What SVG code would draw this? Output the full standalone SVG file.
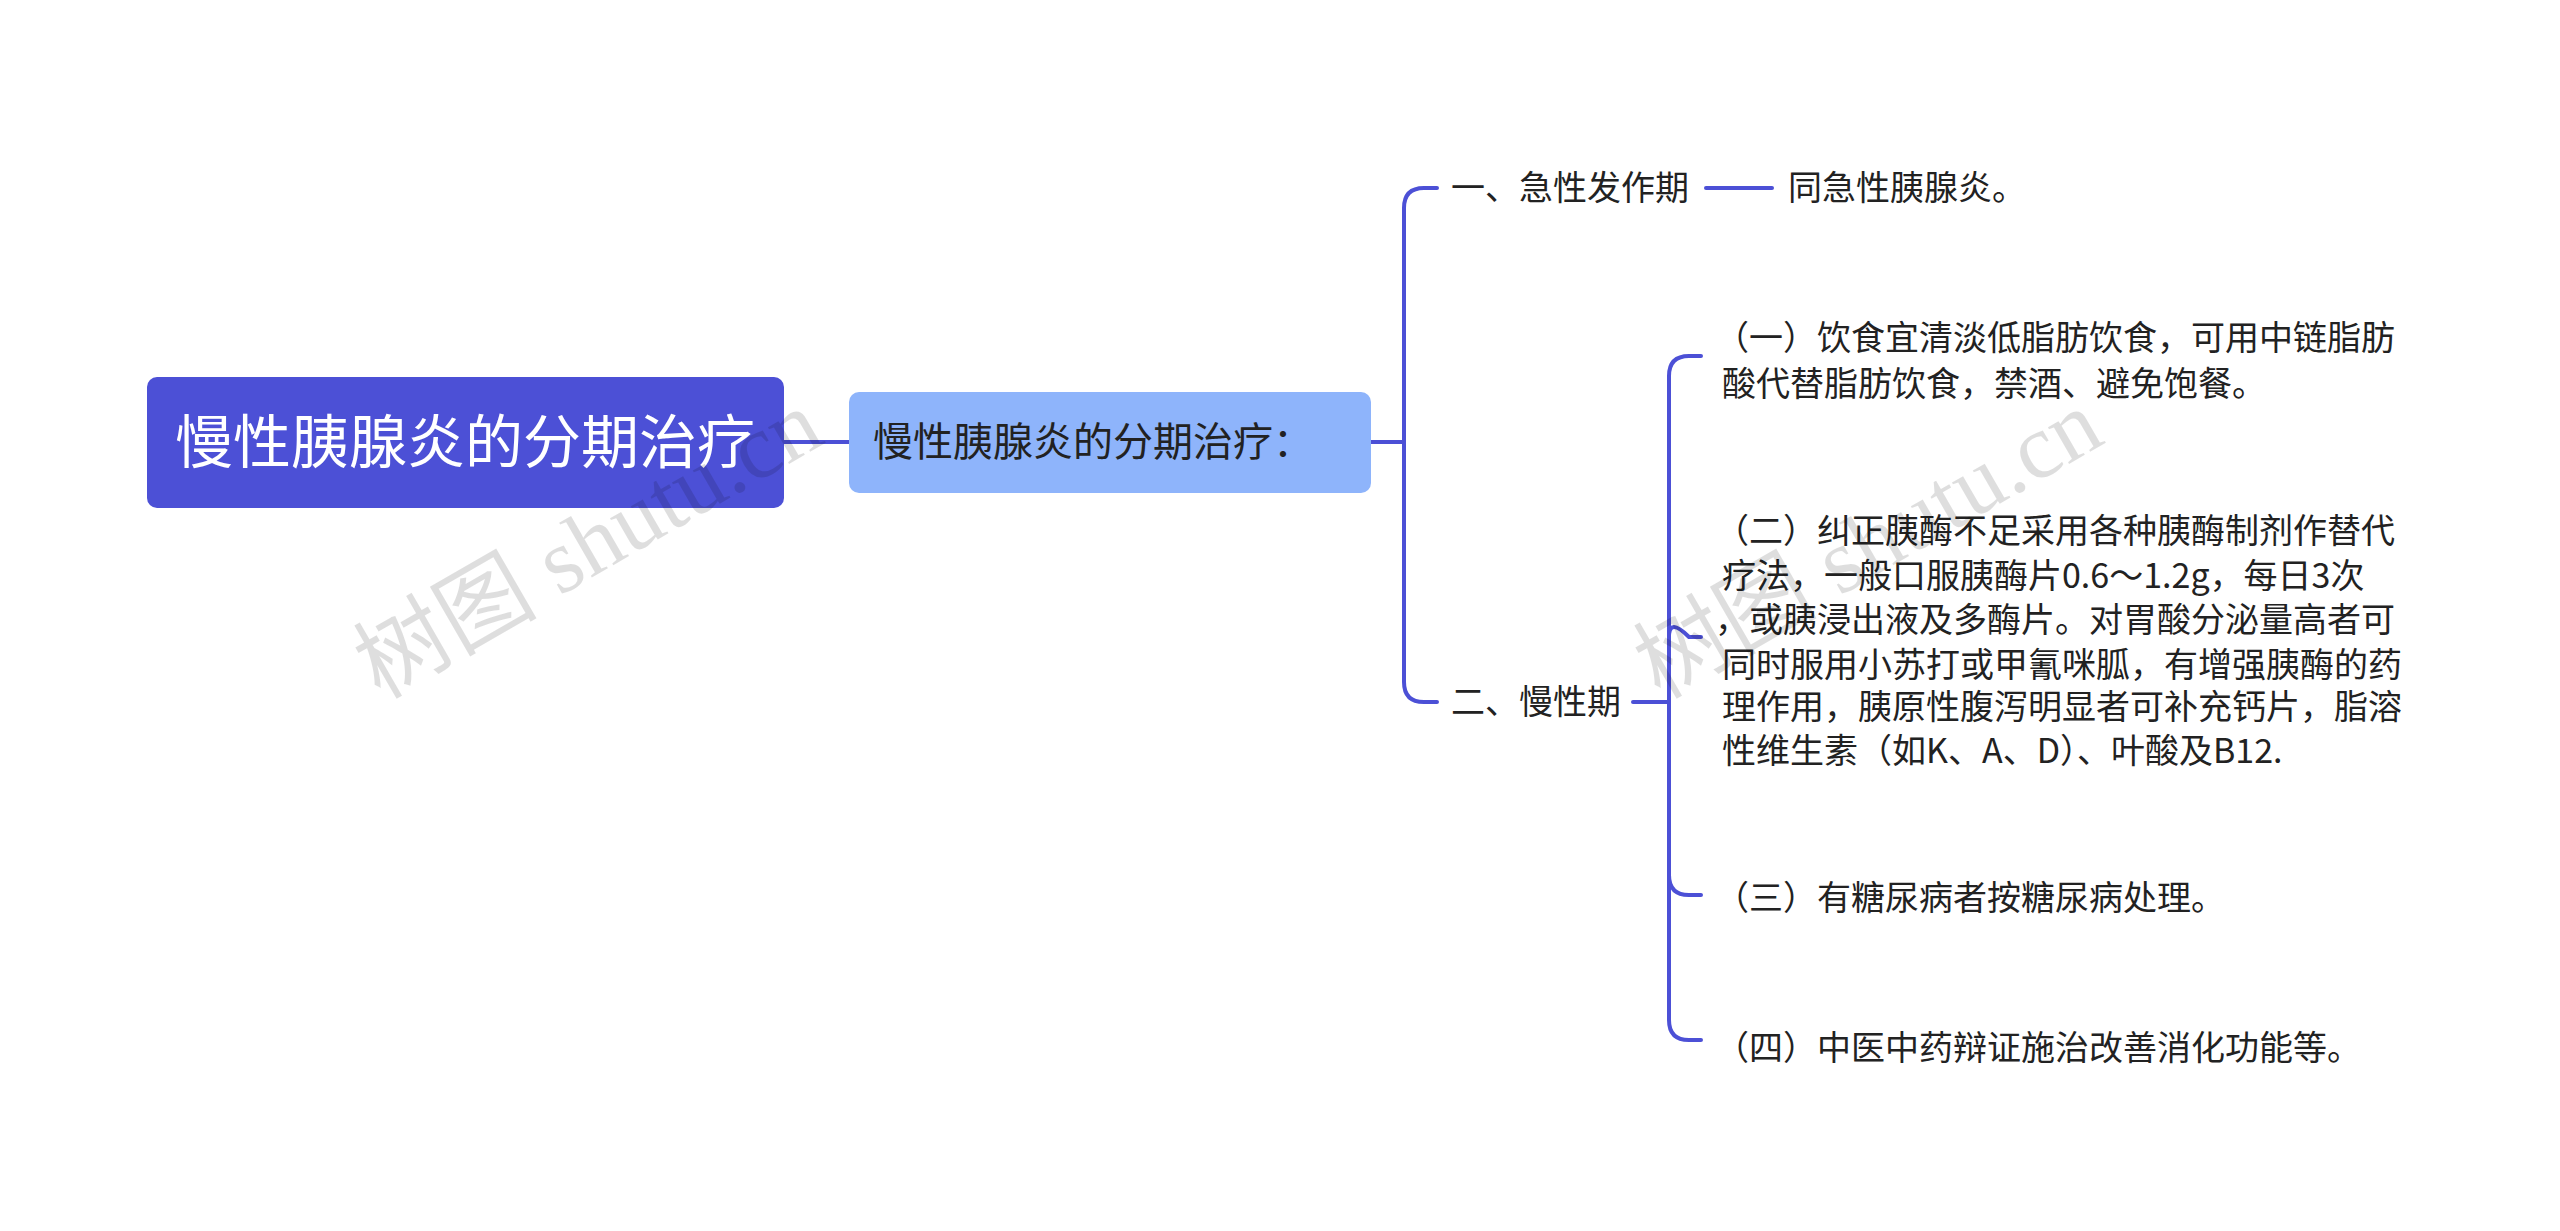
<svg xmlns="http://www.w3.org/2000/svg" width="2560" height="1231" viewBox="0 0 2560 1231">
<style>
text{font-family:"Noto Sans CJK SC","Noto Sans",sans-serif;}
.t{font-size:34px;fill:#222;}
.c{fill:none;stroke:#4C50D6;stroke-width:4;stroke-linecap:round;}
.wm{font-size:92px;fill:#000;fill-opacity:0.13;font-family:"Liberation Serif","Noto Sans CJK SC",serif;}
</style>
<rect width="2560" height="1231" fill="#fff"/>
<g id="connectors">
<path class="c" d="M784 442H849"/>
<path class="c" d="M1371 442H1404M1437 188H1424Q1404 188 1404 208V682Q1404 702 1424 702H1437"/>
<path class="c" d="M1706 188H1772"/>
<path class="c" d="M1633 702H1669M1701 356H1689Q1669 356 1669 376V1020Q1669 1040 1689 1040H1701M1669 637Q1669 617 1689 637H1701M1669 875Q1669 895 1689 895H1701"/>
</g>
<g id="root"><rect x="147" y="377" width="637" height="131" rx="10" fill="#4C50D6"/><text x="465" y="463" text-anchor="middle" style="font-size:58px;fill:#fff">慢性胰腺炎的分期治疗</text></g>
<g id="n2"><rect x="849" y="392" width="522" height="101" rx="10" fill="#8EB4FB"/><text x="873" y="456" style="font-size:40px;fill:#222">慢性胰腺炎的分期治疗：</text></g>
<g id="a"><text class="t" x="1451" y="200">一、急性发作期</text></g>
<g id="a1"><text class="t" x="1788" y="200">同急性胰腺炎。</text></g>
<g id="b"><text class="t" x="1451" y="714">二、慢性期</text></g>
<g id="b1"><text class="t" x="1715" y="350">（一）饮食宜清淡低脂肪饮食，可用中链脂肪</text><text class="t" x="1722" y="396">酸代替脂肪饮食，禁酒、避免饱餐。</text></g>
<g id="b2"><text class="t" x="1715" y="543">（二）纠正胰酶不足采用各种胰酶制剂作替代</text><text class="t" x="1722" y="588">疗法，一般口服胰酶片0.6～1.2g，每日3次</text><text class="t" x="1715" y="632">，或胰浸出液及多酶片。对胃酸分泌量高者可</text><text class="t" x="1722" y="677">同时服用小苏打或甲氰咪胍，有增强胰酶的药</text><text class="t" x="1722" y="719">理作用，胰原性腹泻明显者可补充钙片，脂溶</text><text class="t" x="1722" y="763">性维生素（如K、A、D）、叶酸及B12.</text></g>
<g id="b3"><text class="t" x="1715" y="910">（三）有糖尿病者按糖尿病处理。</text></g>
<g id="b4"><text class="t" x="1715" y="1060">（四）中医中药辩证施治改善消化功能等。</text></g>
<text class="wm" transform="translate(380,700) rotate(-30)">树图 shutu.cn</text>
<text class="wm" transform="translate(1660,700) rotate(-30)">树图 shutu.cn</text>
</svg>
